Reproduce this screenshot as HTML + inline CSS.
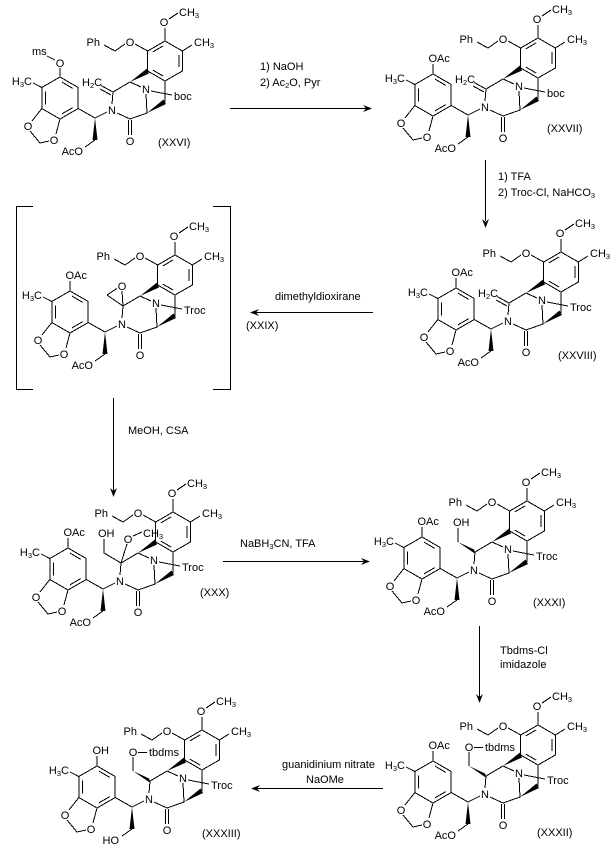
<!DOCTYPE html>
<html>
<head>
<meta charset="utf-8">
<style>
html,body{margin:0;padding:0;background:#fff;}
svg{display:block;}
text{font-family:"Liberation Sans",Arial,sans-serif;font-size:11px;fill:#000;}
</style>
</head>
<body>
<svg width="614" height="854" viewBox="0 0 614 854" xmlns="http://www.w3.org/2000/svg">
<rect width="614" height="854" fill="#fff"/>
<defs>
<g id="core" stroke="#000" stroke-width="1" fill="none">
  <g shape-rendering="crispEdges">
  <path d="M60,77 L78.2,87.5 L78.2,108.5 L60,119 L41.8,108.5 L41.8,87.5 Z"/>
  <path d="M61.9,82.1 L72.8,88.4 M45.3,91.7 L45.3,104.3 M72.8,107.6 L61.9,113.9"/>
  <path d="M41.8,87.5 L33,83 M41.8,108.5 L32,121 M60,119 L56,134 M30,131 L40,143 L49,141 M78.2,108.5 L95,118 L107,112 M95,140 L85,147"/>
  <path d="M112,104 L113,92 L130,82 L141,87 M151,91 L172,95 M146,94 L147,113 L130,119 L117,113 M128.5,120 L128.5,135 M131.5,120 L131.5,135 M165,102 L165,81"/>
  <path d="M165,41 L182.3,51 L182.3,71 L165,81 L147.7,71 L147.7,51 Z"/>
  <path d="M152.8,51.9 L163.2,45.9 M179,55 L179,67 M152.8,70.1 L163.2,76.1"/>
  <path d="M165,41 L165,28 M169,19 L178,13 M182.3,51 L192,45 M147.7,51 L135,44 M125,44 L115,51 L104,45"/>
  </g>
  <polygon points="95,118 92.5,140 97.5,140" fill="#000" stroke="none"/>
  <polygon points="130,82 147,68.5 149,73.5" fill="#000" stroke="none"/>
  <polygon points="147,113 163.5,99.5 166,104" fill="#000" stroke="none"/>
</g>
</defs>

<!-- XXVI -->
<g transform="translate(0,0)">
  <use href="#core"/>
  <g stroke="#000" stroke-width="1" fill="none" shape-rendering="crispEdges">
    <path d="M60,77 L60,68 M47,56 L55,60 M113,92 L101,85.5 M111,95 L100,89"/>
  </g>
  <text x="32" y="85" text-anchor="end">H<tspan font-size="7.5" dy="2">3</tspan><tspan dy="-2">C</tspan></text>
  <text x="28" y="130" text-anchor="middle">O</text>
  <text x="54" y="144" text-anchor="middle">O</text>
  <text x="112" y="114" text-anchor="middle">N</text>
  <text x="146" y="93" text-anchor="middle">N</text>
  <text x="130" y="145" text-anchor="middle">O</text>
  <text x="164" y="26" text-anchor="middle">O</text>
  <text x="179" y="16">CH<tspan font-size="7.5" dy="2">3</tspan></text>
  <text x="194" y="46">CH<tspan font-size="7.5" dy="2">3</tspan></text>
  <text x="130" y="46" text-anchor="middle">O</text>
  <text x="100" y="46" text-anchor="end">Ph</text>
  <text x="83" y="155" text-anchor="end">AcO</text>
  <text x="174" y="100">boc</text>
  <text x="60" y="67" text-anchor="middle">O</text>
  <text x="32" y="55">ms</text>
  <text x="82" y="86">H<tspan font-size="7.5" dy="2">2</tspan><tspan dy="-2">C</tspan></text>
</g>
<text x="158" y="146">(XXVI)</text>

<!-- XXVII -->
<g transform="translate(373,-3)">
  <use href="#core"/>
  <g stroke="#000" stroke-width="1" fill="none" shape-rendering="crispEdges">
    <path d="M60,77 L60,67 M113,92 L101,85.5 M111,95 L100,89"/>
  </g>
  <text x="32" y="85" text-anchor="end">H<tspan font-size="7.5" dy="2">3</tspan><tspan dy="-2">C</tspan></text>
  <text x="28" y="130" text-anchor="middle">O</text>
  <text x="54" y="144" text-anchor="middle">O</text>
  <text x="112" y="114" text-anchor="middle">N</text>
  <text x="146" y="93" text-anchor="middle">N</text>
  <text x="130" y="145" text-anchor="middle">O</text>
  <text x="164" y="26" text-anchor="middle">O</text>
  <text x="179" y="16">CH<tspan font-size="7.5" dy="2">3</tspan></text>
  <text x="194" y="46">CH<tspan font-size="7.5" dy="2">3</tspan></text>
  <text x="130" y="46" text-anchor="middle">O</text>
  <text x="100" y="46" text-anchor="end">Ph</text>
  <text x="83" y="155" text-anchor="end">AcO</text>
  <text x="174" y="100">boc</text>
  <text x="55.5" y="65">OAc</text>
  <text x="82" y="86">H<tspan font-size="7.5" dy="2">2</tspan><tspan dy="-2">C</tspan></text>
</g>
<text x="547" y="132">(XXVII)</text>

<!-- XXVIII -->
<g transform="translate(396,211)">
  <use href="#core"/>
  <g stroke="#000" stroke-width="1" fill="none" shape-rendering="crispEdges">
    <path d="M60,77 L60,67 M113,92 L101,85.5 M111,95 L100,89"/>
  </g>
  <text x="32" y="85" text-anchor="end">H<tspan font-size="7.5" dy="2">3</tspan><tspan dy="-2">C</tspan></text>
  <text x="28" y="130" text-anchor="middle">O</text>
  <text x="54" y="144" text-anchor="middle">O</text>
  <text x="112" y="114" text-anchor="middle">N</text>
  <text x="146" y="93" text-anchor="middle">N</text>
  <text x="130" y="145" text-anchor="middle">O</text>
  <text x="164" y="26" text-anchor="middle">O</text>
  <text x="179" y="16">CH<tspan font-size="7.5" dy="2">3</tspan></text>
  <text x="194" y="46">CH<tspan font-size="7.5" dy="2">3</tspan></text>
  <text x="130" y="46" text-anchor="middle">O</text>
  <text x="100" y="46" text-anchor="end">Ph</text>
  <text x="83" y="155" text-anchor="end">AcO</text>
  <text x="174" y="100">Troc</text>
  <text x="55.5" y="65">OAc</text>
  <text x="82" y="86">H<tspan font-size="7.5" dy="2">2</tspan><tspan dy="-2">C</tspan></text>
</g>
<text x="558" y="359">(XXVIII)</text>

<!-- XXIX -->
<g transform="translate(10,214)">
  <use href="#core"/>
  <g stroke="#000" stroke-width="1" fill="none" shape-rendering="crispEdges">
    <path d="M60,77 L60,67 M113,92 L112,77 M97,81 L107,74.5 M97,81 L113,92"/>
  </g>
  <text x="32" y="85" text-anchor="end">H<tspan font-size="7.5" dy="2">3</tspan><tspan dy="-2">C</tspan></text>
  <text x="28" y="130" text-anchor="middle">O</text>
  <text x="54" y="144" text-anchor="middle">O</text>
  <text x="112" y="114" text-anchor="middle">N</text>
  <text x="146" y="93" text-anchor="middle">N</text>
  <text x="130" y="145" text-anchor="middle">O</text>
  <text x="164" y="26" text-anchor="middle">O</text>
  <text x="179" y="16">CH<tspan font-size="7.5" dy="2">3</tspan></text>
  <text x="194" y="46">CH<tspan font-size="7.5" dy="2">3</tspan></text>
  <text x="130" y="46" text-anchor="middle">O</text>
  <text x="100" y="46" text-anchor="end">Ph</text>
  <text x="83" y="155" text-anchor="end">AcO</text>
  <text x="174" y="100">Troc</text>
  <text x="55.5" y="65">OAc</text>
  <text x="112" y="76" text-anchor="middle">O</text>
</g>
<text x="246" y="329">(XXIX)</text>
<path d="M33,206.5 L16.5,206.5 L16.5,389.5 L33,389.5 M213,206.5 L230.5,206.5 L230.5,389.5 L213,389.5" stroke="#000" stroke-width="1" fill="none" shape-rendering="crispEdges"/>

<!-- XXX -->
<g transform="translate(8,471)">
  <use href="#core"/>
  <g stroke="#000" stroke-width="1" fill="none" shape-rendering="crispEdges">
    <path d="M60,77 L60,67 M113,92 L96,82 L96,68 M113,92 L119,73 M125,65 L134,61"/>
  </g>
  <text x="32" y="85" text-anchor="end">H<tspan font-size="7.5" dy="2">3</tspan><tspan dy="-2">C</tspan></text>
  <text x="28" y="130" text-anchor="middle">O</text>
  <text x="54" y="144" text-anchor="middle">O</text>
  <text x="112" y="114" text-anchor="middle">N</text>
  <text x="146" y="93" text-anchor="middle">N</text>
  <text x="130" y="145" text-anchor="middle">O</text>
  <text x="164" y="26" text-anchor="middle">O</text>
  <text x="179" y="16">CH<tspan font-size="7.5" dy="2">3</tspan></text>
  <text x="194" y="46">CH<tspan font-size="7.5" dy="2">3</tspan></text>
  <text x="130" y="46" text-anchor="middle">O</text>
  <text x="100" y="46" text-anchor="end">Ph</text>
  <text x="83" y="155" text-anchor="end">AcO</text>
  <text x="174" y="100">Troc</text>
  <text x="55.5" y="65">OAc</text>
  <text x="90" y="66">OH</text>
  <text x="120" y="72" text-anchor="middle">O</text>
  <text x="135" y="66">CH<tspan font-size="7.5" dy="2">3</tspan></text>
</g>
<text x="200" y="596">(XXX)</text>

<!-- XXXI -->
<g transform="translate(362,460)">
  <use href="#core"/>
  <g stroke="#000" stroke-width="1" fill="none" shape-rendering="crispEdges">
    <path d="M60,77 L60,67 M96,82 L96,68"/>
  </g>
  <polygon points="96,82 112,89.5 113.5,94" fill="#000"/>
  <text x="32" y="85" text-anchor="end">H<tspan font-size="7.5" dy="2">3</tspan><tspan dy="-2">C</tspan></text>
  <text x="28" y="130" text-anchor="middle">O</text>
  <text x="54" y="144" text-anchor="middle">O</text>
  <text x="112" y="114" text-anchor="middle">N</text>
  <text x="146" y="93" text-anchor="middle">N</text>
  <text x="130" y="145" text-anchor="middle">O</text>
  <text x="164" y="26" text-anchor="middle">O</text>
  <text x="179" y="16">CH<tspan font-size="7.5" dy="2">3</tspan></text>
  <text x="194" y="46">CH<tspan font-size="7.5" dy="2">3</tspan></text>
  <text x="130" y="46" text-anchor="middle">O</text>
  <text x="100" y="46" text-anchor="end">Ph</text>
  <text x="83" y="155" text-anchor="end">AcO</text>
  <text x="174" y="100">Troc</text>
  <text x="55.5" y="65">OAc</text>
  <text x="91" y="66">OH</text>
</g>
<text x="533" y="606">(XXXI)</text>

<!-- XXXII -->
<g transform="translate(373,684)">
  <use href="#core"/>
  <g stroke="#000" stroke-width="1" fill="none" shape-rendering="crispEdges">
    <path d="M60,77 L60,67 M96,82 L96,68 M101,63.5 L110,63.5"/>
  </g>
  <polygon points="96,82 112,89.5 113.5,94" fill="#000"/>
  <text x="32" y="85" text-anchor="end">H<tspan font-size="7.5" dy="2">3</tspan><tspan dy="-2">C</tspan></text>
  <text x="28" y="130" text-anchor="middle">O</text>
  <text x="54" y="144" text-anchor="middle">O</text>
  <text x="112" y="114" text-anchor="middle">N</text>
  <text x="146" y="93" text-anchor="middle">N</text>
  <text x="130" y="145" text-anchor="middle">O</text>
  <text x="164" y="26" text-anchor="middle">O</text>
  <text x="179" y="16">CH<tspan font-size="7.5" dy="2">3</tspan></text>
  <text x="194" y="46">CH<tspan font-size="7.5" dy="2">3</tspan></text>
  <text x="130" y="46" text-anchor="middle">O</text>
  <text x="100" y="46" text-anchor="end">Ph</text>
  <text x="83" y="155" text-anchor="end">AcO</text>
  <text x="174" y="100">Troc</text>
  <text x="55.5" y="65">OAc</text>
  <text x="96" y="67" text-anchor="middle">O</text>
  <text x="112" y="67">tbdms</text>
</g>
<text x="537" y="836">(XXXII)</text>

<!-- XXXIII -->
<g transform="translate(37,689)">
  <use href="#core"/>
  <g stroke="#000" stroke-width="1" fill="none" shape-rendering="crispEdges">
    <path d="M60,77 L60,67 M96,82 L96,68 M101,63.5 L110,63.5"/>
  </g>
  <polygon points="96,82 112,89.5 113.5,94" fill="#000"/>
  <text x="32" y="85" text-anchor="end">H<tspan font-size="7.5" dy="2">3</tspan><tspan dy="-2">C</tspan></text>
  <text x="28" y="130" text-anchor="middle">O</text>
  <text x="54" y="144" text-anchor="middle">O</text>
  <text x="112" y="114" text-anchor="middle">N</text>
  <text x="146" y="93" text-anchor="middle">N</text>
  <text x="130" y="145" text-anchor="middle">O</text>
  <text x="164" y="26" text-anchor="middle">O</text>
  <text x="179" y="16">CH<tspan font-size="7.5" dy="2">3</tspan></text>
  <text x="194" y="46">CH<tspan font-size="7.5" dy="2">3</tspan></text>
  <text x="130" y="46" text-anchor="middle">O</text>
  <text x="100" y="46" text-anchor="end">Ph</text>
  <text x="82" y="155" text-anchor="end">HO</text>
  <text x="174" y="100">Troc</text>
  <text x="55.5" y="65">OH</text>
  <text x="96" y="67" text-anchor="middle">O</text>
  <text x="112" y="67">tbdms</text>
</g>
<text x="202" y="837">(XXXIII)</text>

<!-- Arrows -->
<g stroke="#000" stroke-width="1" fill="none" shape-rendering="crispEdges">
  <path d="M230,108.5 L366,108.5"/>
  <path d="M485.5,160 L485.5,221"/>
  <path d="M256,312.5 L373,312.5"/>
  <path d="M113.5,398 L113.5,491"/>
  <path d="M223,561.5 L364,561.5"/>
  <path d="M479.5,626 L479.5,697"/>
  <path d="M257,788.5 L383,788.5"/>
</g>
<g fill="#000">
  <polygon points="372,108.5 363,105 366,108.5 363,112"/>
  <polygon points="485.5,228 482,219 485.5,222 489,219"/>
  <polygon points="250,312.5 259,309 256,312.5 259,316"/>
  <polygon points="113.5,497 110,488 113.5,491 117,488"/>
  <polygon points="370,561.5 361,558 364,561.5 361,565"/>
  <polygon points="479.5,703 476,694 479.5,697 483,694"/>
  <polygon points="251,788.5 260,785 257,788.5 260,792"/>
</g>

<!-- Reagents -->
<text x="260" y="70">1) NaOH</text>
<text x="260" y="86">2) Ac<tspan font-size="7.5" dy="2">2</tspan><tspan dy="-2">O, Pyr</tspan></text>
<text x="498" y="180">1) TFA</text>
<text x="498" y="196">2) Troc-Cl, NaHCO<tspan font-size="7.5" dy="2">3</tspan></text>
<text x="275" y="300">dimethyldioxirane</text>
<text x="128" y="434">MeOH, CSA</text>
<text x="240" y="547">NaBH<tspan font-size="7.5" dy="2">3</tspan><tspan dy="-2">CN, TFA</tspan></text>
<text x="500" y="654">Tbdms-Cl</text>
<text x="500" y="668">imidazole</text>
<text x="282" y="768">guanidinium nitrate</text>
<text x="306" y="783">NaOMe</text>
</svg>
</body>
</html>
